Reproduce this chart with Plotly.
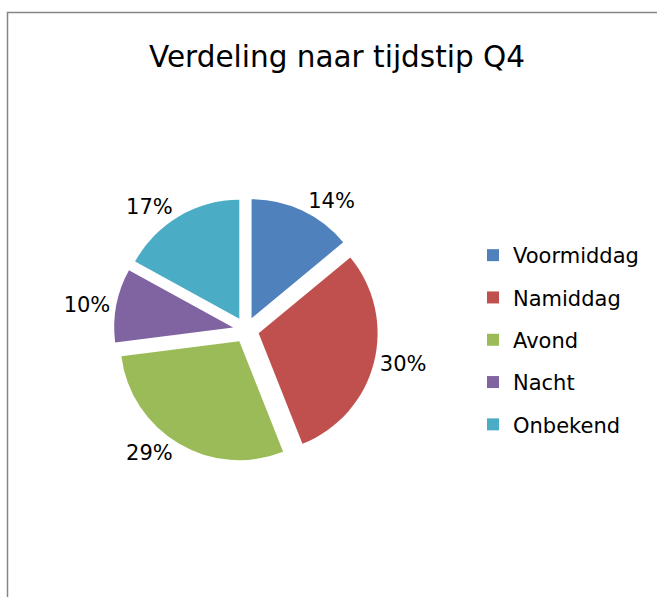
import plotly.graph_objects as go

categories = ["Voormiddag", "Namiddag", "Avond", "Nacht", "Onbekend"]
values = [14, 30, 29, 10, 17]
colors = ["#4F81BD", "#C0504D", "#9BBB59", "#8064A2", "#4BACC6"]

W, H = 657, 597
FONT = "DejaVu Sans, Verdana, sans-serif"

def px(x):
    return x / W

def py(y):
    return 1 - y / H

fig = go.Figure()
fig.add_trace(go.Pie(
    labels=categories, values=values, sort=False, direction="clockwise",
    rotation=0,
    marker=dict(colors=colors, line=dict(width=0)),
    pull=[0.11] * len(values),
    textinfo="percent", textposition="outside",
    textfont=dict(family=FONT, size=21, color="#000"),
    showlegend=False,
    domain=dict(x=[px(114), px(378)], y=[py(462), py(198)]),
    hoverinfo="label+percent",
))
for c, col in zip(categories, colors):
    fig.add_trace(go.Scatter(
        x=[None], y=[None], mode="markers", name=c,
        marker=dict(symbol="square", size=12, color=col),
        legendgroup=c, showlegend=True,
    ))

fig.update_layout(
    width=W, height=H,
    margin=dict(l=0, r=0, t=0, b=0),
    paper_bgcolor="white", plot_bgcolor="white",
    font=dict(family=FONT, color="#000"),
    title=dict(text="Verdeling naar tijdstip Q4", x=0.513, xanchor="center",
               y=py(57), yanchor="middle", yref="container",
               font=dict(family=FONT, size=29.5, color="#000")),
    xaxis=dict(visible=False), yaxis=dict(visible=False),
    legend=dict(x=px(473), xanchor="left", y=py(235), yanchor="top",
                font=dict(family=FONT, size=21, color="#000"),
                tracegroupgap=12, bgcolor="rgba(0,0,0,0)"),
    shapes=[dict(type="rect", xref="paper", yref="paper",
                 x0=px(7.5), x1=px(700), y0=py(700), y1=py(12.5),
                 line=dict(color="#868686", width=1.5), layer="below")],
)
fig.write_html("out.html", config={"displayModeBar": False},
               post_script="document.body.style.margin='0';")
